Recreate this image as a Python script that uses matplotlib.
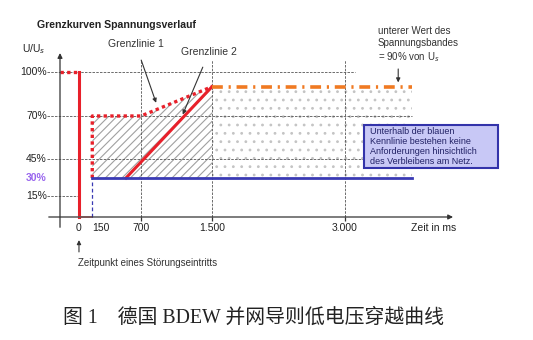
import numpy as np
import matplotlib.pyplot as plt
from matplotlib.patches import Polygon, Rectangle

plt.rcParams['font.family'] = ['Liberation Sans', 'DejaVu Sans']
plt.rcParams['hatch.linewidth'] = 0.8

# time points (ms) and voltage levels (% of U_s)
x_ticks = [0, 150, 700, 1500, 3000]
x_ticklabels = ['0', '150', '700', '1.500', '3.000']
y_ticks = [100, 70, 45, 30, 15]
y_ticklabels = ['100%', '70%', '45%', '30%', '15%']

# Grenzlinie 1 (dotted red)
gl1_t = [150, 150, 700, 1500]
gl1_u = [30, 70, 70, 90]
# fault: 100% before, dropping to 0 at t=0
pre_t = [-214, 0]
pre_u = [100, 100]
# Grenzlinie 2 (solid red)
gl2_t = [530, 1500]
gl2_u = [30, 90]
# blue characteristic
blue_t = [150, 3750]
blue_u = [30, 30]
# lower voltage band value 90 %
band_t = [1500, 3750]
band_u = [90, 90]

# schematic (non-linear) voltage axis used in the original sketch
scale_pct = [-100, 0, 15, 30, 45, 70, 100, 200]
scale_px = [-145, 0, 21, 39, 58, 101, 145, 290]
fwd = lambda v: np.interp(v, scale_pct, scale_px)
inv = lambda v: np.interp(v, scale_px, scale_pct)

fig = plt.figure(figsize=(5.33, 3.40), dpi=100)
ax = fig.add_axes([0, 0, 1, 1])
ax.set_yscale('function', functions=(fwd, inv))
ax.set_xlim(-890.6, 5120)
ax.set_ylim(inv(-123), inv(217))
ax.axis('off')

red = '#e8202a'
blue = '#3a3ab4'
orange = '#f07a22'
grid_kw = dict(color='#555555', lw=0.6, linestyle=(0, (3, 1.5)))

# grid lines
ax.hlines(100, -361, 3110, **grid_kw)
ax.hlines([70, 45], -361, 3750, **grid_kw)
ax.hlines(15, -361, 0, **grid_kw)
ax.vlines([700, 1500, 3000], 0, 108, **grid_kw)

# shaded regions
ax.add_patch(Polygon(list(zip(gl1_t + [1500], gl1_u + [30])), closed=True,
                     facecolor='none', edgecolor='#a0a0a0', hatch='////', lw=0))
ax.add_patch(Polygon([(1500, 30), (1500, 90), (3750, 90), (3750, 30)], closed=True,
                     facecolor='none', edgecolor='#c4c4c4', hatch='..', lw=0))

# axes with arrows
ax.annotate('', xy=(-214, 115), xytext=(-214, -9),
            arrowprops=dict(arrowstyle='-|>', color='#333333', lw=0.9, mutation_scale=7))
ax.annotate('', xy=(4250, 0), xytext=(-372, 0),
            arrowprops=dict(arrowstyle='-|>', color='#333333', lw=0.9, mutation_scale=7))
for t in x_ticks[2:]:
    ax.vlines(t, -3, 0, color='#333333', lw=0.9)

# curves
ax.plot(pre_t, pre_u, color=red, lw=2.4, linestyle=(0, (1, 1)))
ax.plot([0, 0], [100, 0], color=red, lw=2.2)
ax.plot([0, 150], [0, 0], color='#f08080', lw=1.2)
ax.plot(gl1_t, gl1_u, color=red, lw=2.4, linestyle=(0, (1, 1)))
ax.plot(gl2_t, gl2_u, color=red, lw=2.2)
ax.plot([150, 150], [0, 30], color=blue, lw=0.9, linestyle=(0, (3, 2)))
ax.plot(blue_t, blue_u, color=blue, lw=2.0)
ax.plot(band_t, band_u, color=orange, lw=2.6, linestyle=(0, (3, 1.6, 0.6, 1.6)))

# tick labels
for t, lab in zip(x_ticks, x_ticklabels):
    ha = 'left' if t == 150 else 'center'
    ax.text(t, -4, lab, ha=ha, va='top', fontsize=7.5, color='#222222')
for u, lab in zip(y_ticks, y_ticklabels):
    if u == 30:
        ax.text(-361, u, lab, ha='right', va='center', fontsize=7.5,
                color='#9966ee', fontweight='bold')
    else:
        ax.text(-361, u, lab, ha='right', va='center', fontsize=7.5, color='#222222')
ax.text(-640, 116, 'U/U$_s$', ha='left', va='center', fontsize=7.5, color='#222222')
ax.text(4250, -4, 'Zeit in ms', ha='right', va='top', fontsize=7.5, color='#222222')

ax.text(-470, 132.5, 'Grenzkurven Spannungsverlauf', ha='left', va='center',
        fontsize=7.6, fontweight='bold', color='#222222')

ax.annotate('Grenzlinie 1', xy=(870, 79), xytext=(640, 119), ha='center', va='center',
            fontsize=7.5, color='#333333',
            arrowprops=dict(arrowstyle='-|>', color='#333333', lw=0.8, mutation_scale=6,
                            shrinkA=6, shrinkB=0))
ax.annotate('Grenzlinie 2', xy=(1170, 71), xytext=(1470, 114), ha='center', va='center',
            fontsize=7.5, color='#333333',
            arrowprops=dict(arrowstyle='-|>', color='#333333', lw=0.8, mutation_scale=6,
                            shrinkA=6, shrinkB=0))
ax.annotate('', xy=(3600, 91), xytext=(3600, 104),
            arrowprops=dict(arrowstyle='-|>', color='#333333', lw=0.8, mutation_scale=6))
ax.text(3370, 118.5, 'unterer Wert des\nSpannungsbandes\n= 90% von U$_s$', ha='left',
        va='center', fontsize=7, color='#333333', linespacing=1.2)

ax.annotate('', xy=(0, -14), xytext=(0, -26),
            arrowprops=dict(arrowstyle='-|>', color='#333333', lw=0.8, mutation_scale=6))
ax.text(-15, -32, 'Zeitpunkt eines Störungseintritts', ha='left', va='center',
        fontsize=7, color='#333333')

# info box
ax.add_patch(Rectangle((0.683, 0.506), 0.251, 0.126, transform=ax.transAxes,
                       facecolor='#c8c8f6', edgecolor='#3333aa', lw=1.5, zorder=5))
ax.text(0.695, 0.568, 'Unterhalb der blauen\nKennlinie bestehen keine\n'
        'Anforderungen hinsichtlich\ndes Verbleibens am Netz.',
        transform=ax.transAxes, ha='left', va='center', fontsize=6.5,
        color='#222266', linespacing=1.15, zorder=6)

fig.text(0.475, 0.065, '图 1　德国 BDEW 并网导则低电压穿越曲线', ha='center', va='center',
         fontsize=14.3, family=['Liberation Serif', 'Noto Sans CJK SC'], color='#222222')

fig.savefig('out.png', dpi=100, facecolor='white')
